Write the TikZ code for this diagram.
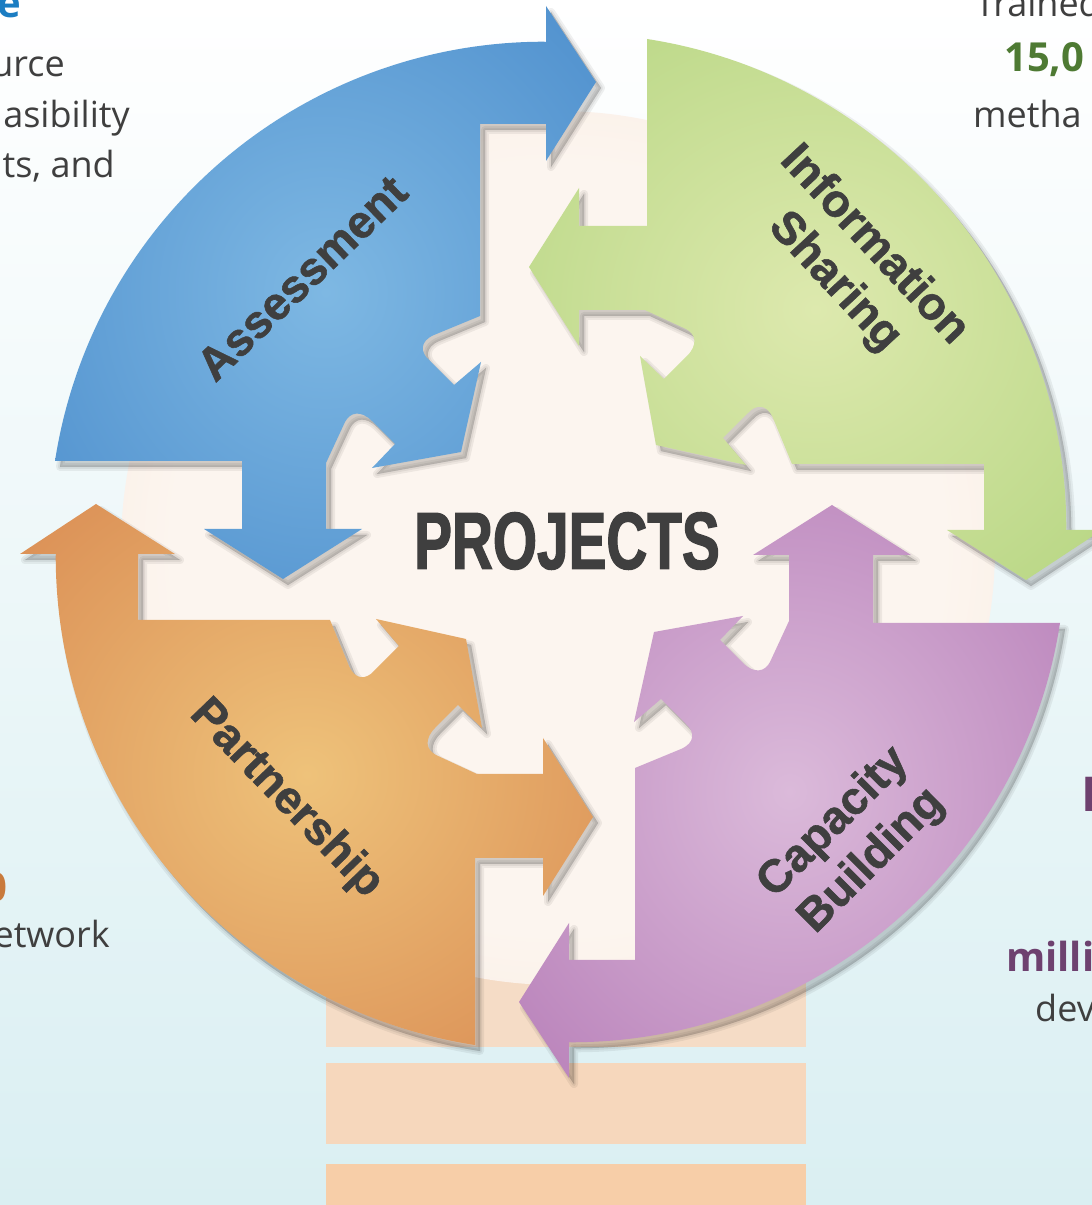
\documentclass[tikz,border=0pt]{standalone}
\usepackage{fontspec}
\setmainfont{Open Sans}
\newfontfamily\labelfont[FakeBold=1.2]{Liberation Sans}
\newfontfamily\projfont[FakeStretch=0.7, FakeBold=1.5]{Liberation Sans}
\usetikzlibrary{positioning}
\definecolor{mink}{HTML}{3F3F3F}
\definecolor{mblue}{HTML}{4E8FCD}
\definecolor{lblue}{HTML}{7EB8E3}
\definecolor{mgreen}{HTML}{B7D683}
\definecolor{lgreen}{HTML}{DDE9AE}
\definecolor{morange}{HTML}{DA8D54}
\definecolor{lorange}{HTML}{EEC27A}
\definecolor{mpurple}{HTML}{B880B9}
\definecolor{lpurple}{HTML}{DBBADA}
\definecolor{peach}{HTML}{F5DCC6}
\definecolor{lpeach}{HTML}{FCF5EF}
\definecolor{sky}{HTML}{DAEFF2}
\definecolor{tblue}{HTML}{1B7DC2}
\definecolor{tgreen}{HTML}{4E7A33}
\definecolor{torange}{HTML}{C97A3C}
\definecolor{tpurple}{HTML}{6E416F}
\colorlet{pcin}{lblue}
\colorlet{pcout}{mblue}
\pgfdeclareradialshading[pcin,pcout]{piecefill}{\pgfpoint{0bp}{0bp}}{color(0bp)=(pcin); color(36bp)=(pcout); color(50bp)=(pcout)}
\pgfdeclareradialshading{bulbfill}{\pgfpoint{0bp}{0bp}}{color(0bp)=(lpeach); color(22bp)=(lpeach); color(50bp)=(peach)}
\newcommand{\piecepath}{(-503,81) arc[start angle=171.2, end angle=90, radius=495] -- (-12,500) -- (-12,536) -- (38,460) -- (-12,381) -- (-12,418) -- (-78,418) -- (-78,226) -- (-124,207) .. controls (-138,201) and (-138,190) .. (-129,182) -- (-104,157) -- (-77,180) -- (-97,90) -- (-186,74) -- (-163,98) -- (-186,121) .. controls (-197,132) and (-208,130) .. (-213,120) -- (-232,79) -- (-232,13) -- (-196,13) -- (-275,-37) -- (-354,13) -- (-316,13) -- (-316,81) -- cycle}
\tikzset{cyclelabel/.style = {font=\labelfont\bfseries\fontsize{46}{54}\selectfont, text=mink, align=center, inner sep=0}}
\tikzset{sidetext/.style = {font=\fontsize{36}{43}\selectfont, text=mink, inner sep=0}}
\tikzset{sidebold/.style = {font=\bfseries\fontsize{40}{43}\selectfont, inner sep=0}}

\begin{document}
\begin{tikzpicture}[x=1pt, y=1pt]
    \useasboundingbox (0,0) rectangle (1092,1205);
    \clip (0,0) rectangle (1092,1205);
    \shade [top color=white, bottom color=sky] (0,0) rectangle (1092,1205);

    % bulb
    \fill [peach] (326,158) rectangle (806,305);
    \fill [peach!95!orange] (326,61) rectangle (806,142);
    \fill [peach!85!orange] (326,-5) rectangle (806,41);
    \shade [shading=bulbfill] (558,657) circle [radius=437];

    % four arrows
    \foreach \ang/\cx/\dark/\light in {0/558/mblue/lblue, -90/566/mgreen/lgreen, 180/557/mpurple/lpurple, 90/556/morange/lorange} {
      \begin{scope}[shift={(\cx+5,657)}, rotate=\ang]
        \foreach \w in {8,4,0.5}
          \filldraw [black, opacity=0.06, line width=\w pt, line join=round] \piecepath;
      \end{scope}
      \colorlet{pcin}{\light}
      \colorlet{pcout}{\dark}
      \begin{scope}[shift={(\cx,663)}, rotate=\ang]
        \shade [shading=piecefill] \piecepath;
      \end{scope}
    }

    \node [cyclelabel, rotate=44] (assess) at (302,927) {Assessment};
    \node [cyclelabel, rotate=-47] (info) at (854,941) {Information\\Sharing};
    \node [cyclelabel, rotate=-46] (partner) at (286,406) {Partnership};
    \node [cyclelabel, rotate=45] (capacity) at (853,363) {Capacity\\Building};
    \node [text=mink, inner sep=0, font=\projfont\bfseries\fontsize{81}{81}\selectfont] (projects) at (567,664) {PROJECTS};

    % cut-off side texts
    \node [sidebold, text=tblue, anchor=base east] (tle) at (21,1187) {e};
    \node [sidetext, anchor=base east] (tla) at (65,1128) {urce};
    \node [sidetext, anchor=base east] (tlb) at (130,1077) {asibility};
    \node [sidetext, anchor=base east] (tlc) at (115,1027) {ts, and};
    \node [sidetext, anchor=base west] (tra) at (975,1188) {Trained};
    \node [sidebold, text=tgreen, anchor=base west] (trb) at (1004,1133) {15,0};
    \node [sidetext, anchor=base west] (trc) at (973,1077) {metha};
    \node [sidebold, text=torange, anchor=base east] (bla) at (8,303) {0};
    \node [sidetext, anchor=base east] (blb) at (110,257) {etwork};
    \node [sidebold, text=tpurple, anchor=base west, font=\bfseries\fontsize{48}{48}\selectfont] (bra) at (1081,393) {I};
    \node [sidebold, text=tpurple, anchor=base west] (brb) at (1006,233) {milli};
    \node [sidetext, anchor=base west] (brc) at (1035,183) {dev};
\end{tikzpicture}
\end{document}
